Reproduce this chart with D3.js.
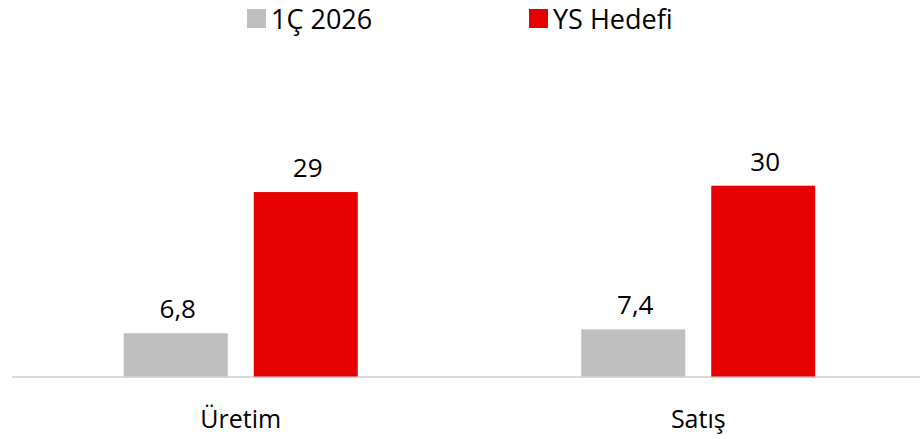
<!DOCTYPE html>
<html>
<head>
<meta charset="utf-8">
<script src="https://cdn.jsdelivr.net/npm/d3@7"></script>
<style>
  html, body { margin: 0; padding: 0; background: #fff; }
  svg { display: block; }
</style>
</head>
<body>
<div id="chart"></div>
<script>
// data
var categories = ["Üretim", "Satış"];
var seriesNames = ["1Ç 2026", "YS Hedefi"];
var seriesColors = ["#bfbfbf", "#e60000"];
var actual = [6.8, 7.4];
var target = [29, 30];
var valueLabels = [["6,8", "29"], ["7,4", "30"]];

var width = 920,
    height = 439,
    baseY = 376.5,
    font = "'Open Sans', 'Noto Sans', sans-serif";

var svg = d3.select("#chart").append("svg")
    .attr("width", width)
    .attr("height", height);

var x0 = d3.scaleBand()
    .domain(categories)
    .range([12, 927]);

var x1 = d3.scaleBand()
    .domain(seriesNames)
    .range([0, x0.bandwidth()])
    .paddingInner(0.2)
    .paddingOuter(0.86);

var y = d3.scaleLinear()
    .domain([0, 40])
    .range([baseY, baseY - 40 * 6.36]);

var rows = categories.map(function(c, i) {
    return {
        cat: c,
        values: [
            { name: seriesNames[0], value: actual[i], label: valueLabels[i][0], color: seriesColors[0] },
            { name: seriesNames[1], value: target[i], label: valueLabels[i][1], color: seriesColors[1] }
        ]
    };
});

// axis line
svg.append("line")
    .attr("x1", 12)
    .attr("x2", width)
    .attr("y1", baseY + 0.5)
    .attr("y2", baseY + 0.5)
    .attr("stroke", "#d9d9d9")
    .attr("stroke-width", 2);

var groups = svg.selectAll("g.group")
    .data(rows)
    .enter().append("g")
    .attr("class", "group")
    .attr("transform", function(d) { return "translate(" + x0(d.cat) + ",0)"; });

groups.selectAll("rect")
    .data(function(d) { return d.values; })
    .enter().append("rect")
    .attr("x", function(d) { return x1(d.name); })
    .attr("y", function(d) { return y(d.value); })
    .attr("width", x1.bandwidth())
    .attr("height", function(d) { return baseY - y(d.value); })
    .attr("fill", function(d) { return d.color; });

groups.selectAll("text.val")
    .data(function(d) { return d.values; })
    .enter().append("text")
    .attr("class", "val")
    .attr("x", function(d) { return x1(d.name) + x1.bandwidth() / 2 + 2; })
    .attr("y", function(d) { return y(d.value) - 15; })
    .attr("text-anchor", "middle")
    .style("font-family", font)
    .style("font-size", "26px")
    .style("fill", "#000")
    .text(function(d) { return d.label; });

// category labels
svg.selectAll("text.cat")
    .data(categories)
    .enter().append("text")
    .attr("class", "cat")
    .attr("x", function(d) { return x0(d) + x0.bandwidth() / 2; })
    .attr("y", 428)
    .attr("text-anchor", "middle")
    .style("font-family", font)
    .style("font-size", "25px")
    .style("fill", "#000")
    .text(function(d) { return d; });

// legend
var legendX = [247, 529];
var legend = svg.selectAll("g.legend")
    .data(seriesNames)
    .enter().append("g")
    .attr("class", "legend")
    .attr("transform", function(d, i) { return "translate(" + legendX[i] + ",0)"; });

legend.append("rect")
    .attr("x", 0)
    .attr("y", 9)
    .attr("width", 19)
    .attr("height", 19)
    .attr("fill", function(d, i) { return seriesColors[i]; });

legend.append("text")
    .attr("x", 24)
    .attr("y", 29)
    .style("font-family", font)
    .style("font-size", "27px")
    .style("fill", "#000")
    .text(function(d) { return d; });
</script>
</body>
</html>
